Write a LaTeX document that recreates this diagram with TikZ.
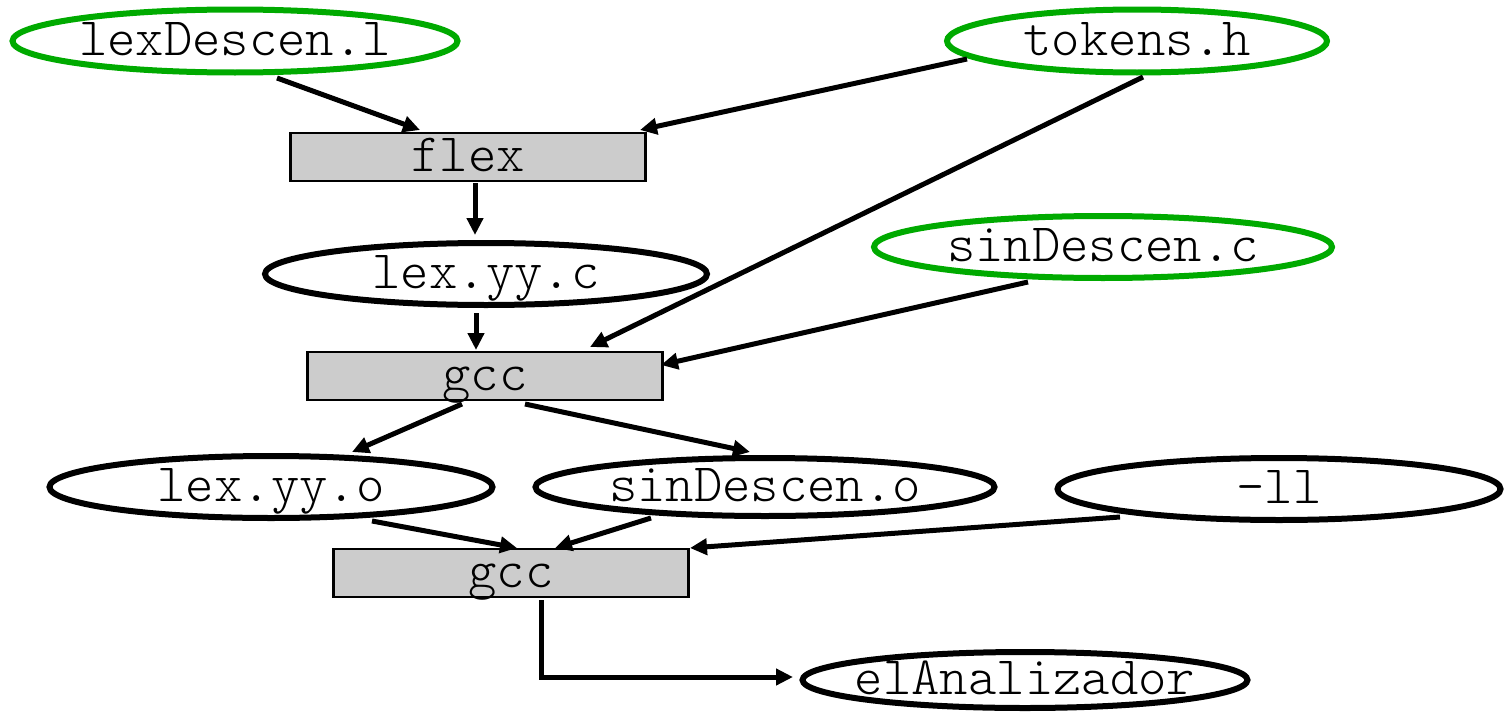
\documentclass[tikz,border=0pt]{standalone}
\usepackage{fontspec}
\setmonofont{Latin Modern Mono Light}
\usetikzlibrary{shapes.geometric,arrows.meta,calc}
\definecolor{srcgreen}{RGB}{0,170,0}
\definecolor{toolgray}{RGB}{204,204,204}
% label text set in a zero-width box so the ellipse size is fixed by its minimum size
\newcommand\fname[1]{\makebox[0pt]{#1}}
\tikzset{
  lbl/.style={font=\ttfamily\fontsize{54pt}{60pt}\selectfont,
              text height=28pt,text depth=0pt,inner sep=0pt},
  file/.style={lbl,ellipse,draw=black,line width=6pt},
  srcfile/.style={file,draw=srcgreen},
  tool/.style={lbl,rectangle,draw=black,fill=toolgray,line width=2.6pt,
               minimum width=355pt,minimum height=48pt},
  arr/.style={line width=5pt,-{Triangle[length=17pt,width=16pt]}}
}
\begin{document}
\begin{tikzpicture}[x=1pt,y=-1pt]
\useasboundingbox (0,0) rectangle (1510,712);

% source files
\node[srcfile,minimum width=445pt,minimum height=63pt] (L)  at (235,41)  {\fname{lexDescen.l}};
\node[srcfile,minimum width=380pt,minimum height=63pt] (T)  at (1137,41) {\fname{tokens.h}};
\node[srcfile,minimum width=458pt,minimum height=62pt] (S)  at (1103,247) {\fname{sinDescen.c}};

% tools
\node[tool] (F)  at (468,157) {flex};
\node[tool] (G1) at (485,376) {gcc};
\node[tool] (G2) at (511,573) {gcc};

% generated files
\node[file,minimum width=442pt,minimum height=62pt] (C)  at (486,274)  {\fname{lex.yy.c}};
\node[file,minimum width=443pt,minimum height=62pt] (O1) at (271,487)  {\fname{lex.yy.o}};
\node[file,minimum width=459pt,minimum height=58pt] (O2) at (765,487)  {\fname{sinDescen.o}};
\node[file,minimum width=443pt,minimum height=62pt] (LL) at (1279,489) {\fname{-ll}};
\node[file,minimum width=445pt,minimum height=56pt] (E)  at (1025,680) {\fname{elAnalizador}};

% flex stage
\draw[arr] ($(L)+(42,37)$)    -- ($(F)+(-48,-27)$);
\draw[arr] ($(T)+(-170,18)$)  -- ($(F)+(172,-27)$);
\draw[arr] ($(F)+(7,26)$)     -- ($(C)+(-11,-39)$);

% first compilation
\draw[arr] ($(C)+(-10,39)$)   -- ($(G1)+(-9,-26)$);
\draw[arr] ($(T)+(6,36)$)     -- ($(G1)+(105,-29)$);
\draw[arr] ($(S)+(-75,35)$)   -- ($(G1)+(176,-11)$);
\draw[arr] ($(G1)+(-23,28)$)  -- ($(O1)+(81,-35)$);
\draw[arr] ($(G1)+(40,28)$)   -- ($(O2)+(-15,-35)$);

% linking
\draw[arr] ($(O1)+(101,34)$)  -- ($(G2)+(6,-25)$);
\draw[arr] ($(O2)+(-114,31)$) -- ($(G2)+(44,-25)$);
\draw[arr] ($(LL)+(-159,28)$) -- ($(G2)+(179,-25)$);
\draw[arr] ($(G2)+(30,27)$)   |- ($(E)+(-232,-3)$);
\end{tikzpicture}
\end{document}
